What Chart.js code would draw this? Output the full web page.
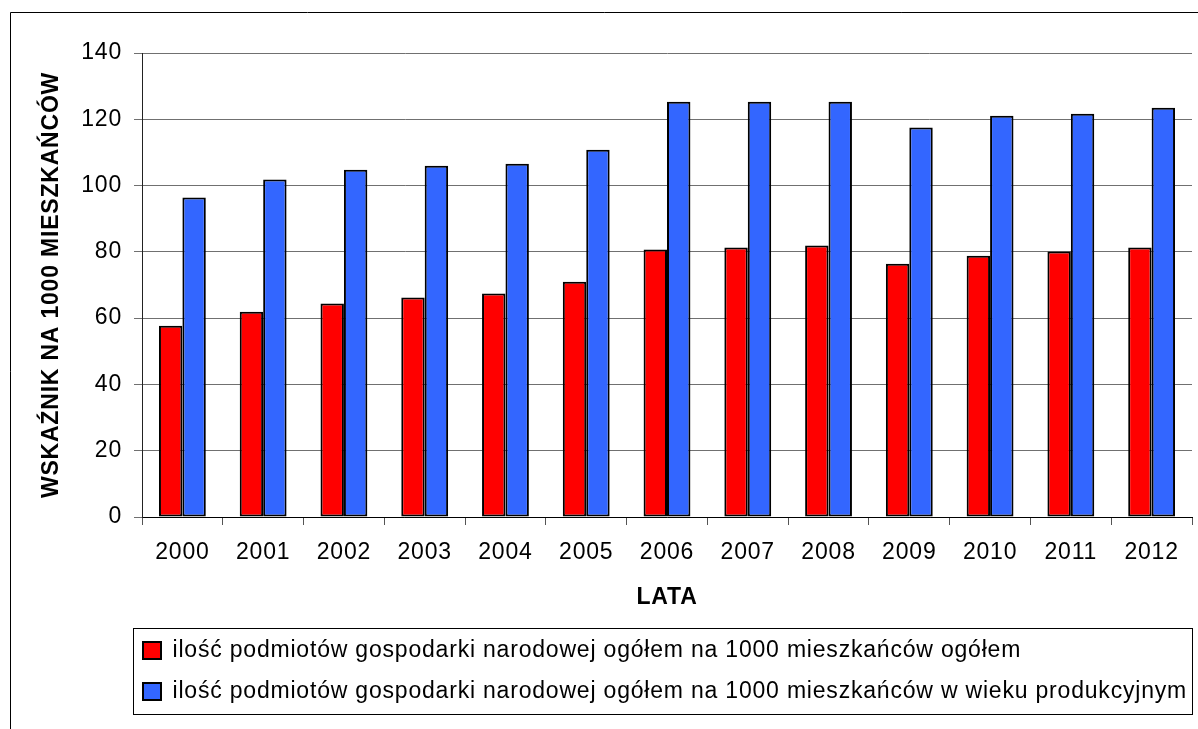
<!DOCTYPE html>
<html>
<head>
<meta charset="utf-8">
<script src="https://cdn.jsdelivr.net/npm/chart.js@4/dist/chart.umd.min.js"></script>
<style>
html,body{margin:0;padding:0;background:#fff;}
canvas{display:block;}
</style>
</head>
<body>
<canvas id="c" width="1198" height="729"></canvas>
<script>
// ---- data ----
const years = ['2000','2001','2002','2003','2004','2005','2006','2007','2008','2009','2010','2011','2012'];
const labelTotal = 'ilość podmiotów gospodarki narodowej ogółem na 1000 mieszkańców ogółem';
const labelWorking = 'ilość podmiotów gospodarki narodowej ogółem na 1000 mieszkańców w wieku produkcyjnym';
const perThousandTotal = [57.7, 61.9, 64.4, 66.2, 67.4, 71.0, 80.7, 81.3, 81.9, 76.4, 78.8, 80.1, 81.3];
const perThousandWorking = [96.4, 101.8, 104.8, 106.0, 106.6, 110.8, 125.3, 125.3, 125.3, 117.5, 121.1, 121.7, 123.5];
const yMin = 0, yMax = 140, yStep = 20;
const yTitle = 'WSKAŹNIK NA 1000 MIESZKAŃCÓW';
const xTitle = 'LATA';

const FONT = "'Liberation Sans', Arial, sans-serif";
const SPACING = '0.8px';

const framePlugin = {
  id: 'frame',
  beforeUpdate(chart) { chart.ctx.letterSpacing = SPACING; },
  afterLayout(chart) {
    const lg = chart.legend;
    if (lg) { lg.left = 125; }
  },
  beforeDraw(chart) {
    const ctx = chart.ctx;
    ctx.letterSpacing = SPACING;
    ctx.save();
    ctx.fillStyle = '#fff';
    ctx.fillRect(0, 0, chart.width, chart.height);
    ctx.strokeStyle = '#000';
    ctx.lineWidth = 1;
    ctx.beginPath();
    ctx.moveTo(10.5, chart.height + 5);
    ctx.lineTo(10.5, 12.5);
    ctx.lineTo(chart.width + 5, 12.5);
    ctx.stroke();
    ctx.restore();
  },
  afterDraw(chart) {
    const lg = chart.legend;
    if (!lg) return;
    const ctx = chart.ctx;
    const maxLine = Math.max(...lg.lineWidths);
    const x1 = Math.round(lg.left + 8) + 0.5;
    const x2 = Math.round(lg.left + maxLine + 5) + 0.5;
    const y1 = Math.round(lg.top + 7) + 0.5;
    const y2 = Math.round(lg.bottom + 1) + 0.5;
    ctx.save();
    ctx.strokeStyle = '#000';
    ctx.lineWidth = 1;
    ctx.strokeRect(x1, y1, x2 - x1, y2 - y1);
    ctx.restore();
  }
};

new Chart(document.getElementById('c'), {
  type: 'bar',
  data: {
    labels: years,
    datasets: [
      {
        label: labelTotal,
        data: perThousandTotal,
        backgroundColor: '#FF0000',
        borderColor: '#000000',
        borderWidth: 2,
        borderSkipped: false,
        categoryPercentage: 0.58,
        barPercentage: 1.0
      },
      {
        label: labelWorking,
        data: perThousandWorking,
        backgroundColor: '#3366FF',
        borderColor: '#000000',
        borderWidth: 2,
        borderSkipped: false,
        categoryPercentage: 0.58,
        barPercentage: 1.0
      }
    ]
  },
  options: {
    responsive: false,
    animation: false,
    devicePixelRatio: 1,
    layout: { padding: { left: 0, right: 6, top: 53, bottom: 16 } },
    plugins: {
      tooltip: { enabled: false },
      legend: {
        position: 'bottom',
        align: 'start',
        labels: {
          color: '#000',
          font: { family: FONT, size: 23 },
          boxWidth: 18,
          boxHeight: 17,
          padding: 18
        }
      }
    },
    scales: {
      x: {
        grid: {
          offset: true,
          drawOnChartArea: false,
          drawTicks: true,
          tickLength: 8,
          color: '#555'
        },
        border: { color: '#000', width: 1 },
        ticks: {
          color: '#000',
          font: { family: FONT, size: 23 },
          padding: 14,
          maxRotation: 0,
          autoSkip: false
        },
        title: {
          display: true,
          text: xTitle,
          color: '#000',
          font: { family: FONT, size: 23, weight: 'bold' },
          padding: { top: 0, bottom: 10 }
        },
        afterFit(scale) { scale.height = 104; }
      },
      y: {
        min: yMin,
        max: yMax,
        grid: {
          color: '#707070',
          lineWidth: 1,
          drawTicks: true,
          tickLength: 8
        },
        border: { color: '#222', width: 1 },
        ticks: {
          stepSize: yStep,
          color: '#000',
          font: { family: FONT, size: 23 },
          padding: 12
        },
        title: {
          display: true,
          text: yTitle,
          color: '#000',
          font: { family: FONT, size: 23, weight: 'bold' },
          padding: { top: 38, bottom: 0 }
        },
        afterFit(scale) { scale.width = 142; }
      }
    }
  },
  plugins: [framePlugin]
});
</script>
</body>
</html>
